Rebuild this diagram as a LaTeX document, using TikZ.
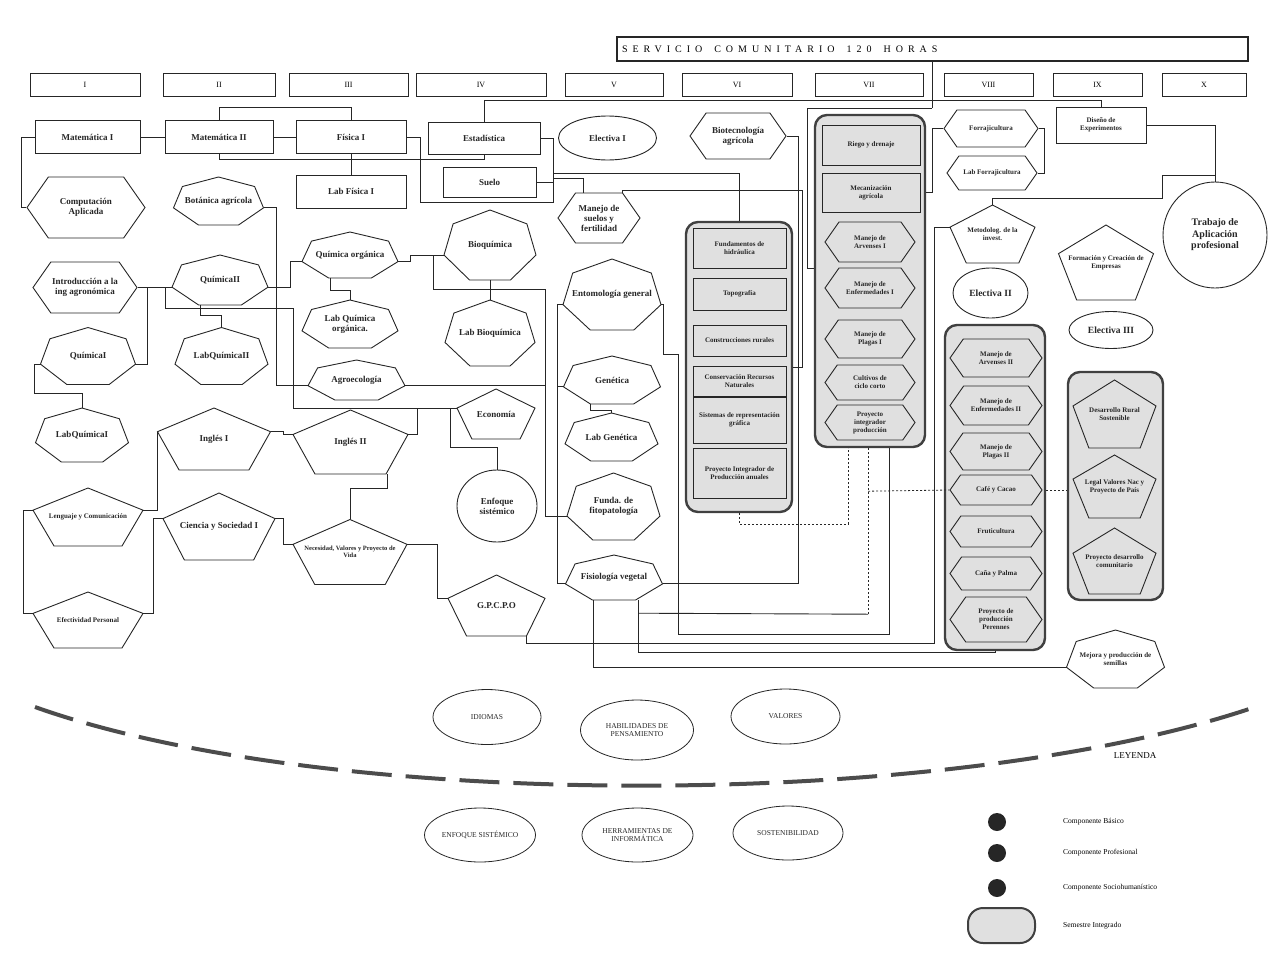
\documentclass[tikz,border=0pt]{standalone}
\usepackage{fontspec}
\setmainfont{Liberation Serif}
\newfontfamily\spaced[LetterSpace=50]{Liberation Serif}
\usetikzlibrary{shapes.geometric,shapes.symbols}

\tikzset{
  lbl/.style={inner sep=1pt, align=center, text=black!85, font=\fontsize{9}{10}\selectfont\bfseries},
  sm/.style={font=\fontsize{7}{8}\selectfont\bfseries},
  shp/.style={line width=0.9pt, draw=black!85},
  rbox/.style={lbl, draw=black!85, line width=0.9pt},
  hexa/.style={lbl, draw=black!85, line width=0.9pt, signal, signal to=east and west, signal pointer angle=110},
  ell/.style={lbl, draw=black!85, line width=0.9pt, ellipse},
  bell/.style={ell, font=\fontsize{7.5}{8.5}\selectfont, line width=0.8pt},
  sem/.style={draw=black!85, line width=0.9pt, minimum height=23pt, font=\fontsize{8}{9}\selectfont},
  integ/.style={draw=black!75, line width=2.4pt, rounded corners=12pt, fill=black!12, inner sep=0pt},
  conn/.style={line width=0.9pt, draw=black!85},
  dotline/.style={conn, line width=0.8pt, dash pattern=on 2pt off 2pt},
  legdot/.style={circle, fill=black!85, minimum size=18pt, inner sep=0pt},
  legtxt/.style={font=\fontsize{7.5}{8.5}\selectfont, inner sep=0pt},
  arcdash/.style={line width=4pt, draw=black!70, dash pattern=on 40pt off 14pt}
}

% polygon with a vertex on top: [options] sides, name, x, y, width, height, text
\newcommand\pshape[8][]{%
  \pgfmathsetmacro\shPb{cos(180/#2)}%
  \pgfmathsetmacro\shPf{ifthenelse(#2==5,0.9511,0.9749)}%
  \pgfmathsetmacro\shRy{#7/(1+\shPb)}%
  \pgfmathsetmacro\shRx{#6/2/\shPf}%
  \pgfmathsetmacro\shPy{#5-#7/2+\shRy}%
  \pgfmathtruncatemacro\shPn{#2-1}%
  \draw[shp] ({#4},{\shPy-\shRy}) coordinate (#3-0)
    \foreach \k in {1,...,\shPn} { -- ({#4+\shRx*cos(90+360*\k/#2)},{\shPy-\shRy*sin(90+360*\k/#2)}) coordinate (#3-\k) } -- cycle;
  \node[lbl, #1, minimum width=#6pt, minimum height=#7pt] (#3) at (#4,#5) {#8};
}

\begin{document}
\begin{tikzpicture}[x=1pt,y=-1pt]
\useasboundingbox (0,0) rectangle (1276,958);

% header and semesters
\node[draw=black!85, line width=1.2pt, minimum height=24pt, text width=621pt, inner xsep=5pt, align=left,
  font=\spaced\fontsize{10}{11}\selectfont] (serv) at (932.5,49) {SERVICIO\hspace{1.2em}COMUNITARIO\hspace{1.2em}120\hspace{1.2em}HORAS};
\foreach \lab/\cx/\w [count=\i] in {I/85/110, II/219/112, III/348.5/119, IV/481/130, V/614/98,
    VI/737/110, VII/869/108, VIII/988.5/89, IX/1097.5/89, X/1204/84}
  \node[sem, minimum width=\w pt] (sem\i) at (\cx,84.5) {\lab};

% semestre I
\node[rbox, minimum width=105pt, minimum height=33pt] (MatI) at (87.5,137) {Matemática I};
\node[hexa, minimum width=118pt, minimum height=61pt] (CompAp) at (86,207.5) {Computación\\Aplicada};
\node[hexa, minimum width=104pt, minimum height=51pt] (Intro) at (85,287.5) {Introducción a la\\ing agronómica};
\pshape{7}{QI}{88}{356}{95}{57}{QuímicaI}
\pshape{7}{LabQI}{82}{435}{93}{54}{LabQuímicaI}
\pshape[sm]{5}{Leng}{88}{517}{110}{58}{Lenguaje y Comunicación}
\pshape[sm]{5}{Efec}{88}{620}{110}{56}{Efectividad Personal}

% semestre II
\node[rbox, minimum width=108pt, minimum height=33pt] (MatII) at (219,137) {Matemática II};
\pshape{7}{Bot}{218.5}{201}{90}{48}{Botánica agrícola}
\pshape{7}{QII}{220}{280}{96}{50}{QuímicaII}
\pshape{7}{LabQII}{221.5}{356}{93}{57}{LabQuímicaII}
\pshape{5}{IngI}{214}{439}{113}{62}{Inglés I}
\pshape{5}{Cien}{219}{526.5}{112}{67}{Ciencia y Sociedad I}

% semestre III
\node[rbox, minimum width=110pt, minimum height=33pt] (FisI) at (351,137) {Física I};
\node[rbox, minimum width=110pt, minimum height=33pt] (LabFis) at (351,191.5) {Lab Física I};
\pshape{7}{QO}{350}{255}{96}{46}{Química orgánica}
\pshape{7}{LabQO}{350}{324}{96}{48}{Lab Química\\orgánica.}
\pshape{7}{Agro}{356.5}{380}{97}{40}{Agroecología}
\pshape{5}{IngII}{350.5}{442}{115}{64}{Inglés II}
\pshape[font=\fontsize{6.5}{7.5}\selectfont\bfseries]{5}{Nec}{350}{552}{114}{65}{Necesidad, Valores y Proyecto de\\Vida}

% semestre IV
\node[rbox, minimum width=112pt, minimum height=32pt] (Estad) at (484,138) {Estadística};
\node[rbox, minimum width=93pt, minimum height=30pt] (Suelo) at (489.5,182) {Suelo};
\pshape{7}{Bioq}{490}{245}{92}{70}{Bioquímica}
\pshape{7}{LabBioq}{490}{333}{90}{66}{Lab Bioquímica}
\pshape{5}{Econ}{496}{414}{78}{50}{Economía}
\node[ell, minimum width=80pt, minimum height=72pt] (Enf) at (497,506) {Enfoque\\sistémico};
\pshape{5}{GPCPO}{496.5}{605.5}{97}{61}{G.P.C.P.O}

% semestre V
\node[ell, minimum width=98pt, minimum height=44pt] (ElecI) at (607.5,138) {Electiva I};
\node[hexa, minimum width=82pt, minimum height=50pt] (MSuelos) at (599,218) {Manejo de\\suelos y\\fertilidad};
\pshape{7}{Ento}{612}{294.5}{98}{71}{Entomología general}
\pshape{7}{Gen}{612}{380}{97}{48}{Genética}
\pshape{7}{LabGen}{611.5}{437}{93}{48}{Lab Genética}
\pshape{7}{Fito}{613.5}{506.5}{93}{67}{Funda. de\\fitopatología}
\pshape{7}{Fisio}{614}{577.5}{97}{45}{Fisiología vegetal}

% semestre VI
\node[hexa, minimum width=96pt, minimum height=46pt] (Biotec) at (738,136) {Biotecnología\\agrícola};
\node[integ, minimum width=106pt, minimum height=290pt] (VIbox) at (739,367) {};
\node[rbox, sm, minimum width=93pt, minimum height=40pt] (Fund) at (739.5,248) {Fundamentos de\\hidráulica};
\node[rbox, sm, minimum width=93pt, minimum height=32pt] (Topo) at (739.5,294) {Topografía};
\node[rbox, sm, minimum width=93pt, minimum height=31pt] (Constr) at (739.5,340.5) {Construcciones rurales};
\node[rbox, sm, minimum width=93pt, minimum height=30pt] (Conserv) at (739.5,381) {Conservación Recursos\\Naturales};
\node[rbox, sm, minimum width=93pt, minimum height=46pt] (Sist) at (739.5,420) {Sistemas de representación\\gráfica};
\node[rbox, sm, minimum width=93pt, minimum height=50pt] (ProyA) at (739.5,473) {Proyecto Integrador de\\Producción anuales};

% semestre VII
\node[integ, minimum width=110pt, minimum height=332pt] (VIIbox) at (870,281) {};
\node[rbox, sm, minimum width=98pt, minimum height=40pt] (Riego) at (871,145) {Riego y drenaje};
\node[rbox, sm, minimum width=98pt, minimum height=39pt] (Mecan) at (871,192.5) {Mecanización\\agrícola};
\node[hexa, sm, minimum width=90pt, minimum height=40pt] (MArvI) at (870,242) {Manejo de\\Arvenses I};
\node[hexa, sm, minimum width=90pt, minimum height=40pt] (MEnfI) at (870,288) {Manejo de\\Enfermedades I};
\node[hexa, sm, minimum width=90pt, minimum height=38pt] (MPlagI) at (870,339) {Manejo de\\Plagas I};
\node[hexa, sm, minimum width=90pt, minimum height=35pt] (Cult) at (870,382.5) {Cultivos de\\ciclo corto};
\node[hexa, sm, minimum width=90pt, minimum height=35pt] (ProyI) at (870,422.5) {Proyecto\\integrador\\producción};

% semestre VIII
\node[hexa, sm, minimum width=94pt, minimum height=37pt] (Forr) at (991,128.5) {Forrajicultura};
\node[hexa, sm, minimum width=90pt, minimum height=34pt] (LabForr) at (992,173) {Lab Forrajicultura};
\pshape[sm]{5}{Met}{992.5}{234}{85}{58}{Metodolog. de la\\invest.}
\node[ell, font=\fontsize{9.5}{10.5}\selectfont\bfseries, minimum width=75pt, minimum height=50pt] (ElecII) at (990.5,293) {Electiva II};
\node[integ, minimum width=100pt, minimum height=325pt] (VIIIbox) at (995,487.5) {};
\node[hexa, sm, minimum width=92pt, minimum height=38pt] (MArvII) at (996,358) {Manejo de\\Arvenses II};
\node[hexa, sm, minimum width=92pt, minimum height=39pt] (MEnfII) at (996,405.5) {Manejo de\\Enfermedades II};
\node[hexa, sm, minimum width=92pt, minimum height=37pt] (MPlagII) at (996,451.5) {Manejo de\\Plagas II};
\node[hexa, sm, minimum width=92pt, minimum height=30pt] (Cafe) at (996,490) {Café y Cacao};
\node[hexa, sm, minimum width=92pt, minimum height=31pt] (Fruti) at (996,531.5) {Fruticultura};
\node[hexa, sm, minimum width=92pt, minimum height=33pt] (Cana) at (996,573.5) {Caña y Palma};
\node[hexa, sm, minimum width=92pt, minimum height=45pt] (ProyP) at (996,619.5) {Proyecto de\\producción\\Perennes};

% semestre IX
\node[rbox, sm, minimum width=90pt, minimum height=36pt] (Diseno) at (1101,125) {Diseño de\\Experimentos};
\pshape[sm]{5}{Form}{1106}{262.5}{95}{75}{Formación y Creación de\\Empresas}
\node[ell, font=\fontsize{9.5}{10.5}\selectfont\bfseries, minimum width=84pt, minimum height=37pt] (ElecIII) at (1111,330) {Electiva III};
\node[integ, minimum width=95pt, minimum height=228pt] (IXbox) at (1115.5,486) {};
\pshape[sm]{5}{DRS}{1114.5}{414}{83}{68}{Desarrollo Rural\\Sostenible}
\pshape[sm]{5}{Legal}{1114.5}{486.5}{83}{63}{Legal Valores Nac y\\Proyecto de País}
\pshape[sm]{5}{PDC}{1114.5}{561}{83}{66}{Proyecto desarrollo\\comunitario}
\pshape[sm]{7}{Mejora}{1115.5}{659}{98}{58}{Mejora y producción de\\semillas}

% semestre X
\node[ell, font=\fontsize{10}{11.5}\selectfont\bfseries, minimum width=104pt, minimum height=106pt] (Trab) at (1215,235) {Trabajo de\\Aplicación\\profesional};

% junctions
\coordinate (jsl) at (553,178);
\coordinate (jsv) at (932,100);
\coordinate (jsw) at (932,108);
\coordinate (jtr) at (1215,175);
\coordinate (vA) at (802,190);
\coordinate (vB) at (807,268);
\coordinate (vD) at (545,289);

% connectors
\draw[conn] (MatI.west) -- ++(-13,0) |- (CompAp.west);
\draw[conn] (MatI.east) -- (MatII.west);
\draw[conn] (MatII.east) -- (FisI.west);
\draw[conn] (MatII.north) -- ++(0,-13) -| (FisI.north);
\draw[conn] (MatII.south) -- ++(0,5) -| (Estad.south);
\draw[conn] (FisI.south) -- (LabFis.north);
\draw[conn] (FisI.east) -| (420,202) -| (jsl);
\draw[conn] (Estad.east) -| (jsl);
\draw[conn] (Suelo.east) -| (jsl);
\draw[conn] (jsl) -| ([xshift=-16]MSuelos.north);
\draw[conn] (jsl) -- ++(0,-5) -| (VIbox.north);
\draw[conn] ([xshift=23]MSuelos.north) |- (vA) |- (VIbox.east);
\draw[conn] (Biotec.east) -- ++(12,0) |- (Fisio-5);
\draw[conn] (serv.south -| jsv) -- (jsw);
\draw[conn] (jsv) -| (Estad.north);
\draw[conn] (jsv) -| (Diseno.north);
\draw[conn] (jsw) -| (vB) -- (vB -| VIIbox.west);
\draw[conn] (Mecan.east -| VIIbox.east) -- ++(6,0) |- (Forr.west);
\draw[conn] (Forr.east) -- ++(6,0) |- (LabForr.east);
\draw[conn] (Diseno.east) -| (Trab.north);
\draw[conn] (jtr) -| (1162,198) -| (Met.north);
\draw[conn] (GPCPO-3) -- ++(0,7) -| ([xshift=-16]Met-1) -- (Met-1);
\draw[conn] ([xshift=-21]Fisio.south) |- (Mejora-2);
\draw[conn] ([xshift=24]Fisio.south) -- ++(0,52) -| (VIIIbox.south);
\draw[dotline] ([xshift=-2]VIIbox.south) -- ++(0,166) coordinate (vC);
\draw[conn] ([xshift=24,yshift=-13]Fisio.south) -- (vC);
\draw[dotline] ([xshift=-2,yshift=-43]VIIbox.south) -- (Cafe.west);
\draw[dotline] (VIbox.south) -- ++(0,11) -| ([xshift=-22]VIIbox.south);
\draw[conn] (Ento-5) -- ++(2,0) -- ++(0,50) -| ++(15,280) -| ([xshift=19]VIIbox.south);
\draw[dotline] (Cafe -| VIIIbox.east) -- (Cafe -| IXbox.west);

\draw[conn] (QI-5) -- ++(12,0) |- (QII-2);
\draw[conn] (Intro.east) -- ++(10.5,0);
\draw[conn] (QI-2) -- ++(-6,0) -- ++(0,29) -| (LabQI.north);
\draw[conn] ([xshift=-20]QII.south) -- ++(0,10) -| (LabQII.north);
\draw[conn] ([xshift=-7]QII-2) |- ++(128,21) |- (Econ-1);
\draw[conn] (QII-5) -- ++(22,0) |- (QO-2);
\draw[conn] (Bot-5) -- ++(13,0) |- (Agro-2);
\draw[conn] ([xshift=-20]QO.south) -- ++(0,12) -| (LabQO.north);
\draw[conn] (QO-5) -- ++(12,0) |- (Bioq-2);
\draw[conn] (Bioq.south) -- (LabBioq.north);
\draw[conn] (Agro-5) -| (vD) -| ([xshift=-11]Bioq-2) -- (Bioq-2);
\draw[conn] (vD) |- (Fito-2);
\draw[conn] (Ento-2) -- ++(-6,0) |- (Fisio-2);
\draw[conn] (Gen-2) -- ++(-6,0);
\draw[conn] ([xshift=-22]Gen.south) -- ++(0,6) -| (LabGen.north);
\draw[conn] (IngI-4) -- ++(13,0) |- (IngII-1);
\draw[conn] (IngII-4) -- ++(9,0) |- (Econ-1);
\draw[conn] ([xshift=-7]Econ-1) |- ([yshift=22]Enf.north) -- (Enf.north);
\draw[conn] (IngI-1) |- (Leng-4);
\draw[conn] (Leng-1) -- ++(-10,0) |- (Efec-1);
\draw[conn] (Efec-4) -- ++(10,0) |- (Cien-1);
\draw[conn] (Cien-4) -- ++(8,0) |- (Nec-1);
\draw[conn] ([xshift=37]IngII.south) -- ++(0,14) -| (Nec.north);
\draw[conn] (Nec-4) -- ++(30,0) |- (GPCPO-1);

% ejes transversales
\draw[arcdash] (35,707) .. controls (330,812) and (950,812) .. (1258,706);
\node[bell, minimum width=108pt, minimum height=55pt] (Idio) at (487,717) {IDIOMAS};
\node[bell, minimum width=113pt, minimum height=60pt] (Habil) at (637,730) {HABILIDADES DE\\PENSAMIENTO};
\node[bell, minimum width=109pt, minimum height=55pt] (Valo) at (785.5,716.5) {VALORES};
\node[bell, minimum width=110pt, minimum height=54pt] (EnfS) at (480,835) {ENFOQUE SISTÉMICO};
\node[bell, minimum width=111pt, minimum height=54pt] (Herr) at (637.5,835) {HERRAMIENTAS DE\\INFORMÁTICA};
\node[bell, minimum width=110pt, minimum height=54pt] (Sost) at (788,833) {SOSTENIBILIDAD};

% leyenda
\node[font=\fontsize{9}{10}\selectfont] (ley) at (1135,756) {LEYENDA};
\foreach \yy/\lgtext [count=\i] in {822/Componente Básico, 853/Componente Profesional, 888/Componente Sociohumanístico} {
  \node[legdot] (d\i) at (997,\yy) {};
  \node[legtxt, anchor=west] (t\i) at (1063,\yy) {\lgtext};
}
\node[integ, line width=2pt, rounded corners=15pt, minimum width=67pt, minimum height=35pt] (lgbox) at (1001.5,925.5) {};
\node[legtxt, anchor=west] (t4) at (1063,926) {Semestre Integrado};
\end{tikzpicture}
\end{document}
